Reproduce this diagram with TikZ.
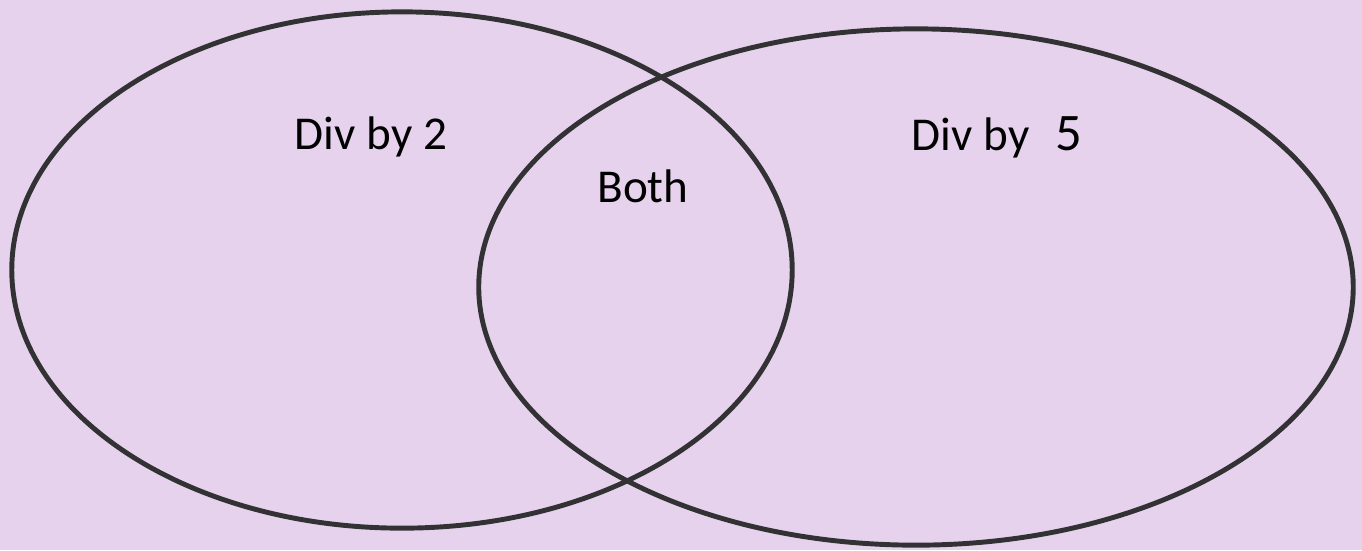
\documentclass[tikz,border=0pt]{standalone}
\usepackage{fontspec}
\setmainfont{Carlito}
\definecolor{lavender}{RGB}{231,210,238}
\definecolor{ringgray}{RGB}{50,50,52}

\begin{document}
\begin{tikzpicture}[x=0.01cm,y=-0.01cm,
  ring/.style={draw=ringgray,line width=1.4pt},
  lbl/.style={font=\fontsize{13.4}{16}\selectfont,text=black,inner sep=0pt}]
  \fill[lavender] (0,0) rectangle (1362,550);
  \useasboundingbox (0,0) rectangle (1362,550);
  % the two sets
  \draw[ring] (402,270) ellipse [x radius=3.9cm, y radius=2.58cm];
  \draw[ring] (916,287) ellipse [x radius=4.37cm, y radius=2.58cm];
  \node[lbl] (two) at (371,137) {Div by 2};
  \node[lbl] (both) at (643,186) {Both};
  \node[lbl] (five) at (997,137) {Div by\hspace{0.55em}{\fontsize{15}{16}\selectfont 5}};
\end{tikzpicture}
\end{document}
